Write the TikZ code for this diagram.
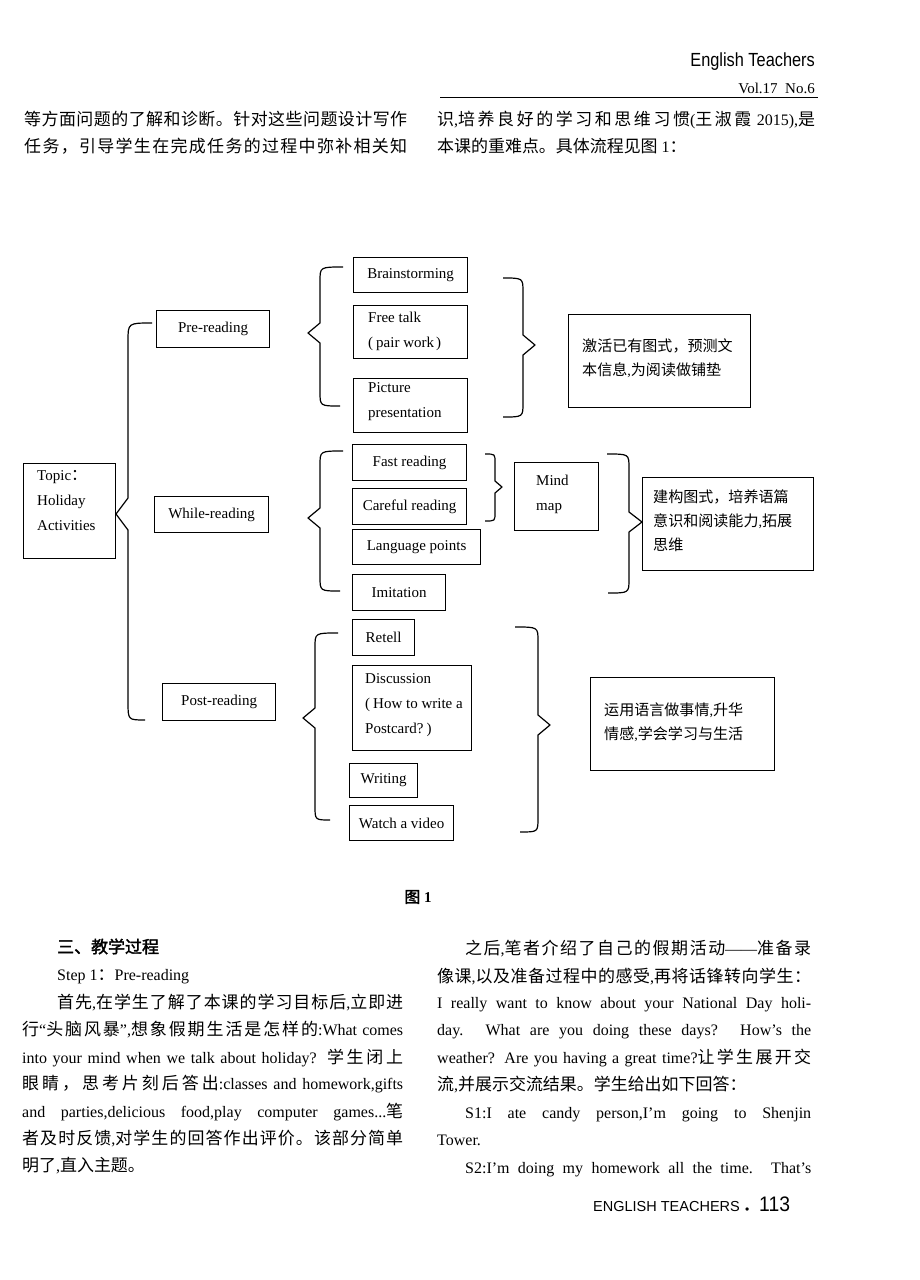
\documentclass[tikz,border=0pt]{standalone}
\usepackage{fontspec}
\usepackage{graphicx}
\setmainfont{Liberation Serif}
\newfontfamily\cjk[Scale=1.06]{Noto Sans CJK SC}
\newfontfamily\cjkb[Scale=1.06,FakeBold=2]{Noto Sans CJK SC}
\newfontfamily\hsans{Liberation Sans}
% automatic switching between Latin and CJK fonts
\XeTeXinterchartokenstate=1
\count255="3000 \loop\XeTeXcharclass\count255=7 \advance\count255 by 1 \ifnum\count255<"3040 \repeat
\count255="4E00 \loop\XeTeXcharclass\count255=7 \advance\count255 by 1 \ifnum\count255<"A000 \repeat
\count255="FF00 \loop\XeTeXcharclass\count255=7 \advance\count255 by 1 \ifnum\count255<"FFF0 \repeat
\XeTeXcharclass"2018=0 \XeTeXcharclass"2019=0 \XeTeXcharclass"201C=0 \XeTeXcharclass"201D=0 \XeTeXcharclass"2014=0
\XeTeXinterchartoks 0 7 = {\cjk}
\XeTeXinterchartoks 4095 7 = {\cjk}
\XeTeXinterchartoks 7 0 = {\rmfamily}
\XeTeXinterchartoks 7 4095 = {\rmfamily}
\XeTeXinterchartoks 7 7 = {\hskip0pt plus 0.2em minus 0.02em\relax}
\newsavebox\jbox
\newcommand\jline[2]{\sbox\jbox{#2}\ifdim\wd\jbox>#1pt\relax\resizebox{#1pt}{\height}{\usebox\jbox}\else\makebox[#1pt][s]{#2}\fi}
\tikzset{
  bxs/.style={draw, line width=1.2pt, inner sep=0pt, anchor=north west, font=\fontsize{15}{25}\selectfont},
  txt/.style={inner sep=0pt, align=left, anchor=west, font=\fontsize{15}{25}\selectfont},
  cntxt/.style={inner sep=0pt, align=left, anchor=west, font=\fontsize{14.2}{24}\selectfont},
  brc/.style={line width=1.2pt, line join=round},
  body/.style={inner sep=0pt, anchor=base west, font=\fontsize{16}{27}\selectfont},
}
\newcommand\mkbox[6]{\node[bxs, minimum width={(#4)-(#2)}, minimum height={(#5)-(#3)}] (#1) at (#2,#3) {#6};}
% brace: top end (#1,#2), spine x #3, tip (#4,#5), bottom end (#6,#7), curl radius #8, tip half-height #9
\newcommand\cbrace[9]{\draw[brc] (#1,#2) .. controls (#3,#2) .. (#3,#2+#8) -- (#3,#5-#9) -- (#4,#5) -- (#3,#5+#9) -- (#3,#7-#8) .. controls (#3,#7) .. (#6,#7);}
\begin{document}
\begin{tikzpicture}[x=1pt,y=-1pt]
\fill[white] (0,0) rectangle (920,1280);
\useasboundingbox (0,0) rectangle (920,1280);

% header
\node[inner sep=0pt, anchor=base east, font=\hsans\fontsize{19}{19}\selectfont] (hd1) at (815,66) {\scalebox{0.86}[1]{English Teachers}};
\node[inner sep=0pt, anchor=base east, font=\fontsize{15}{15}\selectfont] (hd2) at (815,93) {Vol.17\ \ No.6};
\draw[line width=1pt] (440,97) -- (818,97);

% top paragraph
\node[body] (p1) at (24,125) {\jline{383}{等方面问题的了解和诊断。针对这些问题设计写作}};
\node[body] (p2) at (24,152) {\jline{383}{任务，引导学生在完成任务的过程中弥补相关知}};
\node[body] (p3) at (437,125) {\jline{378}{识,培养良好的学习和思维习惯(王淑霞 2015),是}};
\node[body] (p4) at (437,152) {本课的重难点。具体流程见图 1：};

% diagram boxes
\mkbox{topic}{23}{463}{115}{558}{}
\mkbox{pre}{156}{310}{269}{347}{Pre-reading}
\mkbox{while}{154}{496}{268}{532}{While-reading}
\mkbox{post}{162}{683}{275}{720}{Post-reading}
\mkbox{brain}{353}{257}{467}{292}{Brainstorming}
\mkbox{free}{353}{305}{467}{358}{}
\mkbox{pic}{353}{378}{467}{432}{}
\mkbox{fast}{352}{444}{466}{480}{Fast reading}
\mkbox{careful}{352}{488}{466}{524}{Careful reading}
\mkbox{lang}{352}{529}{480}{564}{Language points}
\mkbox{imit}{352}{574}{445}{610}{Imitation}
\mkbox{retell}{352}{619}{414}{655}{Retell}
\mkbox{disc}{352}{665}{471}{750}{}
\mkbox{writing}{349}{763}{417}{797}{Writing}
\mkbox{watch}{349}{805}{453}{840}{Watch a video}
\mkbox{jihuo}{568}{314}{750}{407}{}
\mkbox{mind}{514}{462}{598}{530}{}
\mkbox{jiangou}{642}{477}{813}{570}{}
\mkbox{yunyong}{590}{677}{774}{770}{}

% multi-line box texts
\node[txt] (ttopic) at (37,501) {Topic：\\Holiday\\Activities};
\node[txt] (tfree) at (368,331) {Free talk\\(\hspace{3pt}pair work\hspace{2pt})};
\node[txt] (tpic) at (368,402) {Picture\\presentation};
\node[txt] (tdisc) at (365,705) {Discussion\\(\hspace{3pt}How to write a\\Postcard?\hspace{3pt})};
\node[txt] (tmind) at (536,494) {Mind\\map};
\node[cntxt] (tjihuo) at (582,358) {激活已有图式，预测文\\本信息,为阅读做铺垫};
\node[cntxt] (tjiangou) at (653,521) {建构图式，培养语篇\\意识和阅读能力,拓展\\思维};
\node[cntxt] (tyunyong) at (604,722) {运用语言做事情,升华\\情感,学会学习与生活};

% braces
\cbrace{152}{323}{128}{116}{514}{145}{720}{18}{16}
\cbrace{343}{267}{320}{308}{333}{340}{406}{14}{10}
\cbrace{343}{451}{320}{308}{518}{340}{591}{14}{10}
\cbrace{338}{633}{315}{303}{718}{330}{820}{14}{10}
\cbrace{503}{278}{523}{535}{345}{503}{417}{14}{10}
\cbrace{485}{454}{495}{502}{487}{485}{521}{8}{6}
\cbrace{607}{454}{629}{642}{522}{608}{593}{14}{10}
\cbrace{515}{627}{538}{550}{725}{520}{832}{14}{10}

% caption
\node[inner sep=0pt, font=\fontsize{15}{15}\selectfont] (fig) at (418,897) {\XeTeXinterchartokenstate=0 {\cjkb 图}\ \textbf{1}};

% bottom left column
\node[body] (h1) at (57,953) {\XeTeXinterchartokenstate=0 \cjkb 三、教学过程};
\node[body] (s1) at (57,980) {Step 1：Pre-reading};
\node[body] (b1) at (57,1008) {\jline{346}{首先,在学生了解了本课的学习目标后,立即进}};
\node[body] (b2) at (22,1035) {\jline{381}{行“头脑风暴”,想象假期生活是怎样的:What comes}};
\node[body] (b3) at (22,1063) {\jline{381}{into your mind when we talk about holiday? 学生闭上}};
\node[body] (b4) at (22,1089) {\jline{381}{眼睛，思考片刻后答出:classes and homework,gifts}};
\node[body] (b5) at (22,1117) {\jline{381}{and parties,delicious food,play computer games...笔}};
\node[body] (b6) at (22,1144) {\jline{381}{者及时反馈,对学生的回答作出评价。该部分简单}};
\node[body] (b7) at (22,1171) {明了,直入主题。};

% bottom right column
\node[body] (r1) at (465,954) {\jline{346}{之后,笔者介绍了自己的假期活动——准备录}};
\node[body] (r2) at (437,982) {\jline{374}{像课,以及准备过程中的感受,再将话锋转向学生：}};
\node[body] (r3) at (437,1008) {\jline{374}{I really want to know about your National Day holi-}};
\node[body] (r4) at (437,1035) {\jline{374}{day. What are you doing these days? How’s the}};
\node[body] (r5) at (437,1063) {\jline{374}{weather? Are you having a great time?让学生展开交}};
\node[body] (r6) at (437,1090) {流,并展示交流结果。学生给出如下回答：};
\node[body] (r7) at (465,1118) {\jline{346}{S1:I ate candy person,I’m going to Shenjin}};
\node[body] (r8) at (437,1145) {Tower.};
\node[body] (r9) at (465,1173) {\jline{346}{S2:I’m doing my homework all the time. That’s}};

% footer
\node[inner sep=0pt, anchor=base west, font=\hsans\fontsize{14.5}{14.5}\selectfont] (ft1) at (593,1211) {ENGLISH TEACHERS};
\node[inner sep=0pt, anchor=base west, font=\hsans\fontsize{12}{12}\selectfont] (ft2) at (745,1213) {•};
\node[inner sep=0pt, anchor=base west, font=\hsans\fontsize{21}{21}\selectfont] (ft3) at (759,1211) {\scalebox{0.92}[1]{113}};
\end{tikzpicture}
\end{document}
